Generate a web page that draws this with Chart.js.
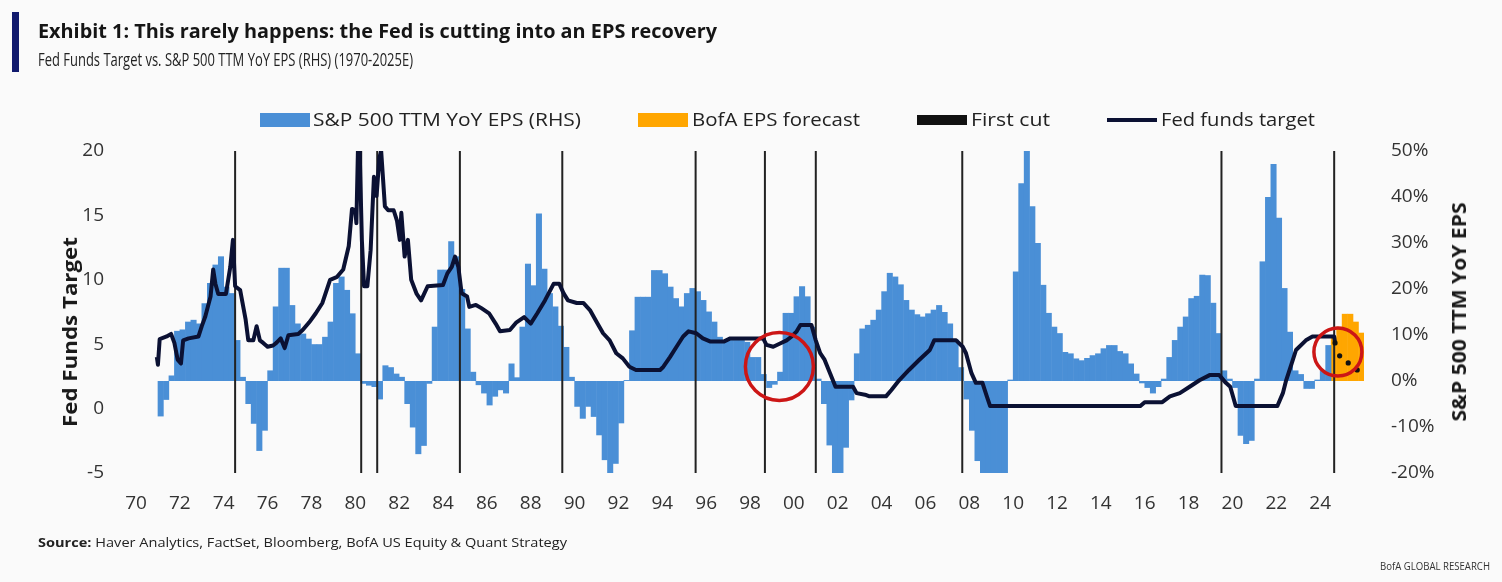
<!DOCTYPE html>
<html>
<head>
<meta charset="utf-8">
<title>Fed Funds Target vs. S&P 500 TTM YoY EPS</title>
<script src="https://cdn.jsdelivr.net/npm/chart.js@4.4.1/dist/chart.umd.min.js"></script>
<style>
  html, body { margin: 0; padding: 0; }
  body {
    width: 1502px; height: 582px; position: relative; overflow: hidden;
    background: #fafafa; color: #1a1a1a;
    font-family: 'Open Sans', 'Noto Sans', sans-serif;
  }
  #chart { position: absolute; left: 0; top: 0; }
  .txt { position: absolute; white-space: nowrap; line-height: 1; transform-origin: 0 50%; }
  .accent { position: absolute; left: 12px; top: 12px; width: 7px; height: 60px; background: #111a6e; }
  #title { left: 38px; top: 22px; font-size: 19px; font-weight: 700; color: #151515; }
  #subtitle { left: 38px; top: 50px; font-size: 18px; color: #222; }
  .swatch { position: absolute; }
  .legend { top: 110px; font-size: 18px; color: #222; }
  .axis-title { font-size: 20px; font-weight: 700; color: #1a1a1a; transform-origin: 50% 50%; }
  #source { left: 38px; top: 536px; font-size: 13px; color: #222; }
  #brand { left: 1380px; top: 560px; font-size: 11px; color: #333; }
</style>
</head>
<body>
<canvas id="chart" width="1502" height="582"></canvas>

<div class="accent"></div>
<div class="txt" id="title" data-w="679">Exhibit 1: This rarely happens: the Fed is cutting into an EPS recovery</div>
<div class="txt" id="subtitle" data-w="375">Fed Funds Target vs. S&amp;P 500 TTM YoY EPS (RHS) (1970-2025E)</div>

<div class="swatch" style="left:260px; top:113px; width:50px; height:14px; background:#4a8fd6;"></div>
<div class="txt legend" style="left:313px;" data-w="268">S&amp;P 500 TTM YoY EPS (RHS)</div>
<div class="swatch" style="left:638px; top:113px; width:50px; height:14px; background:#ffa600;"></div>
<div class="txt legend" style="left:692px;" data-w="168">BofA EPS forecast</div>
<div class="swatch" style="left:917px; top:115px; width:50px; height:10px; background:#111;"></div>
<div class="txt legend" style="left:971px;" data-w="79">First cut</div>
<div class="swatch" style="left:1107px; top:118px; width:50px; height:4px; background:#0b1133;"></div>
<div class="txt legend" style="left:1161px;" data-w="154">Fed funds target</div>

<div class="txt axis-title" id="leftTitle" data-cx="70" data-cy="332" data-w="190">Fed Funds Target</div>
<div class="txt axis-title" id="rightTitle" data-cx="1459" data-cy="312" data-w="219">S&amp;P 500 TTM YoY EPS</div>

<div class="txt" id="source" data-w="529"><b>Source:</b> Haver Analytics, FactSet, Bloomberg, BofA US Equity &amp; Quant Strategy</div>
<div class="txt" id="brand" data-w="110">BofA GLOBAL RESEARCH</div>

<script>
// S&P 500 trailing-12m EPS, YoY %, one value per quarter starting Q1 1971
const epsStart = 1971;
const epsYoY = [
  -7.7, -4.1, 1.2, 10.9,      // 1971
  11.2, 12.9, 13.3, 12.5,     // 1972
  16.9, 21.3, 25.3, 27.1,     // 1973
  20.5, 19.1, 8.9, 0.9,       // 1974
  -5.0, -9.3, -15.2, -10.8,   // 1975
  2.3, 16.2, 24.6, 24.6,      // 1976
  16.5, 12.5, 10.3, 9.2,      // 1977
  8.0, 8.0, 9.6, 12.9,        // 1978
  21.3, 22.7, 19.8, 14.7,     // 1979
  6.0, -0.6, -1.0, -1.3,      // 1980
  -4.0, 3.4, 3.0, 1.6,        // 1981
  0.9, -5.0, -10.1, -15.9,    // 1982
  -14.1, -0.6, 11.8, 24.2,    // 1983
  24.2, 30.4, 27.1, 20.0,     // 1984
  11.4, 2.0, -0.9, -2.7,      // 1985
  -5.3, -3.4, -2.0, -2.7,     // 1986
  3.8, 0.8, 11.8, 25.5,       // 1987
  20.8, 36.4, 24.4, 19.1,     // 1988
  16.2, 12.0, 7.4, 0.9,       // 1989
  -5.6, -8.2, -5.6, -7.8,     // 1990
  -11.8, -17.2, -20.2, -18.0, // 1991
  -9.2, 0.2, 11.0, 18.3,      // 1992
  18.3, 18.3, 24.1, 24.1,     // 1993
  23.4, 20.5, 18.0, 16.2,     // 1994
  19.1, 20.2, 19.5, 17.6,     // 1995
  15.1, 12.9, 9.6, 8.9,       // 1996
  8.9, 8.9, 8.9, 8.5,         // 1997
  5.2, 5.2, 1.5, -1.5,        // 1998
  -0.8, 2.0, 14.8, 14.8,      // 1999
  18.4, 20.6, 18.4, 11.8,     // 2000
  0.5, -5.0, -14.0, -20.5,    // 2001
  -21.0, -14.5, -4.2, 6.0,    // 2002
  11.4, 12.2, 13.3, 15.5,     // 2003
  19.5, 23.5, 22.7, 21.0,     // 2004
  17.6, 15.5, 14.5, 14.0,     // 2005
  14.7, 15.5, 16.5, 15.0,     // 2006
  12.5, 9.0, 3.0, -4.0,       // 2007
  -10.8, -17.4, -22.0, -25.0, // 2008
  -30.0, -30.0, -25.0, 0.3,   // 2009
  23.8, 43.0, 55.0, 38.0,     // 2010
  30.0, 20.9, 14.8, 11.8,     // 2011
  10.4, 6.3, 6.0, 4.9,        // 2012
  4.5, 5.0, 5.6, 6.0,         // 2013
  7.1, 7.8, 7.8, 6.5,         // 2014
  6.0, 3.8, 1.6, -0.5,        // 2015
  -1.5, -2.7, -1.3, 0.5,      // 2016
  5.2, 8.9, 11.8, 14.0,       // 2017
  18.0, 18.5, 23.1, 23.0,     // 2018
  17.0, 10.4, 2.3, 0.5,       // 2019
  -1.5, -11.9, -13.7, -13.0,  // 2020
  0.5, 26.0, 40.0, 47.2,      // 2021
  35.5, 20.2, 10.7, 2.3,      // 2022
  1.5, -1.7, -1.7, 0.3,       // 2023
  2.3, 7.8                    // 2024 H1
];

// BofA forecast, Q3 2024 - Q4 2025
const forecastStart = 2024.5;
const epsForecast = [9.5, 11.8, 14.6, 14.6, 12.9, 10.5];

// Fed funds target (upper bound), year fraction -> %
const fedYears = [
  1970.95, 1971.0, 1971.08, 1971.4, 1971.6, 1971.75, 1971.9, 1972.05, 1972.15, 1972.4,
  1972.85, 1973.0, 1973.15, 1973.4, 1973.52, 1973.62, 1973.75, 1974.1, 1974.3, 1974.42,
  1974.52, 1974.75, 1975.0, 1975.12, 1975.35, 1975.5, 1975.65, 1975.8, 1976.0, 1976.25,
  1976.4, 1976.6, 1976.78, 1976.95, 1977.4, 1977.6, 1977.9, 1978.2, 1978.5, 1978.85,
  1979.15, 1979.45, 1979.7, 1979.85, 1980.0, 1980.05, 1980.12, 1980.2, 1980.3, 1980.4,
  1980.55, 1980.7, 1980.85, 1980.97, 1981.1, 1981.18, 1981.35, 1981.5, 1981.75, 1981.9,
  1982.03, 1982.1, 1982.25, 1982.4, 1982.55, 1982.8, 1983.0, 1983.3, 1984.0, 1984.2,
  1984.4, 1984.55, 1984.7, 1984.85, 1985.1, 1985.2, 1985.5, 1985.75, 1986.1, 1986.4,
  1986.6, 1987.05, 1987.35, 1987.7, 1988.0, 1988.3, 1988.65, 1989.05, 1989.3, 1989.5,
  1989.7, 1990.1, 1990.4, 1990.7, 1991.0, 1991.3, 1991.6, 1991.9, 1992.2, 1992.5,
  1992.8, 1993.9, 1994.05, 1994.35, 1994.65, 1994.95, 1995.2, 1995.55, 1995.85, 1996.2,
  1996.8, 1997.1, 1998.6, 1998.75, 1999.06, 1999.37, 1999.67, 1999.9, 2000.13, 2000.3,
  2000.8, 2001.0, 2001.2, 2001.4, 2001.65, 2001.9, 2002.7, 2002.86, 2003.3, 2003.45,
  2004.2, 2004.45, 2004.8, 2005.25, 2005.7, 2006.2, 2006.4, 2007.4, 2007.7, 2007.85,
  2008.1, 2008.3, 2008.6, 2008.8, 2008.95, 2015.8, 2016.0, 2016.8, 2017.15, 2017.6,
  2018.05, 2018.5, 2018.96, 2019.4, 2019.7, 2019.9, 2020.15, 2022.05, 2022.3, 2022.45,
  2022.7, 2022.9, 2023.35, 2023.65, 2024.64, 2024.68
];
const fedRates = [
  4.0, 3.4, 5.4, 5.6, 5.8, 5.1, 3.8, 3.5, 5.3, 5.45,
  5.6, 6.4, 7.1, 8.7, 10.8, 9.7, 8.9, 8.9, 11.0, 13.1,
  9.5, 9.2, 6.9, 5.3, 5.3, 6.4, 5.3, 5.1, 4.8, 4.9,
  5.1, 5.45, 4.7, 5.7, 5.8, 6.1, 6.7, 7.4, 8.2, 10.0,
  10.2, 10.8, 12.6, 15.5, 15.4, 14.4, 20.0, 20.0, 13.1, 9.5,
  9.5, 12.3, 18.0, 16.5, 19.5, 20.0, 15.7, 15.4, 15.4, 14.6,
  13.1, 15.2, 11.8, 13.1, 10.0, 8.9, 8.4, 9.5, 9.6, 10.5,
  11.0, 11.8, 11.0, 8.95, 8.7, 7.9, 8.05, 7.8, 7.4, 6.6,
  6.0, 6.1, 6.7, 7.1, 6.6, 7.4, 8.4, 9.7, 9.7, 8.95,
  8.4, 8.2, 8.2, 7.65, 6.75, 5.85, 5.3, 4.3, 3.9, 3.25,
  3.0, 3.0, 3.25, 4.0, 4.8, 5.6, 6.0, 5.85, 5.45, 5.2,
  5.2, 5.45, 5.45, 4.95, 4.8, 5.05, 5.3, 5.6, 6.0, 6.5,
  6.5, 5.3, 4.3, 3.8, 2.75, 1.7, 1.7, 1.2, 1.05, 0.95,
  0.95, 1.45, 2.2, 3.0, 3.75, 4.55, 5.3, 5.3, 4.8, 4.3,
  2.75, 2.0, 2.0, 0.95, 0.2, 0.2, 0.5, 0.5, 0.95, 1.2,
  1.7, 2.2, 2.6, 2.6, 2.0, 1.7, 0.2, 0.2, 1.2, 2.2,
  3.5, 4.55, 5.3, 5.6, 5.6, 5.1
];

// projected path after the latest cut
const fedPathYears = [2024.68, 2024.89, 2025.28, 2025.69];
const fedPathRates = [5.1, 4.1, 3.55, 3.0];

// dates of the first cut of each easing cycle
const firstCuts = [1974.52, 1980.27, 1981.0, 1984.77, 1989.44, 1995.52, 1998.68, 2001.0, 2007.68, 2019.5, 2024.64];

// ringed episodes: cuts made while earnings were recovering
const circledYears = [1999.34, 2024.81];
const circledRates = [3.27, 4.39];

const yearTicks = [1970, 1972, 1974, 1976, 1978, 1980, 1982, 1984, 1986, 1988, 1990, 1992, 1994, 1996,
                   1998, 2000, 2002, 2004, 2006, 2008, 2010, 2012, 2014, 2016, 2018, 2020, 2022, 2024];
const rateTicks = [-5, 0, 5, 10, 15, 20];
const epsTicks = [-20, -10, 0, 10, 20, 30, 40, 50];

// bars sit in the middle of their quarter
const quarterBars = (start, values) => values.map((v, i) => ({ x: start + i * 0.25 + 0.125, y: v }));
const pairs = (xs, ys) => xs.map((x, i) => ({ x: x, y: ys[i] }));
const cutLines = firstCuts.flatMap(x => [{ x: x, y: -5 }, { x: x, y: 20 }, { x: x, y: null }]);
const fixedTicks = list => scale => { scale.ticks = list.map(v => ({ value: v })); };

Chart.defaults.font.family = "'Open Sans', 'Noto Sans', sans-serif";
Chart.defaults.font.size = 19;
Chart.defaults.color = '#333';

const chart = new Chart(document.getElementById('chart'), {
  type: 'bar',
  data: {
    datasets: [
      {
        label: 'S&P 500 TTM YoY EPS (RHS)',
        data: quarterBars(epsStart, epsYoY),
        yAxisID: 'y1',
        backgroundColor: '#4a8fd6',
        borderWidth: 0,
        grouped: false,
        barPercentage: 1.1,
        categoryPercentage: 1,
        order: 5
      },
      {
        label: 'BofA EPS forecast',
        data: quarterBars(forecastStart, epsForecast),
        yAxisID: 'y1',
        backgroundColor: '#ffa600',
        borderWidth: 0,
        grouped: false,
        barPercentage: 1.1,
        categoryPercentage: 1,
        order: 5
      },
      {
        type: 'line',
        label: 'First cut',
        data: cutLines,
        yAxisID: 'y',
        borderColor: '#222',
        borderWidth: 2,
        pointRadius: 0,
        spanGaps: false,
        order: 3
      },
      {
        type: 'line',
        label: 'Fed funds target',
        data: pairs(fedYears, fedRates),
        yAxisID: 'y',
        borderColor: '#0b1133',
        borderWidth: 4,
        borderJoinStyle: 'round',
        pointRadius: 0,
        tension: 0,
        order: 2
      },
      {
        type: 'line',
        label: 'Projected path',
        data: pairs(fedPathYears, fedPathRates),
        yAxisID: 'y',
        showLine: false,
        pointRadius: 2.6,
        pointBackgroundColor: '#111',
        pointBorderWidth: 0,
        order: 1
      },
      {
        type: 'line',
        label: 'Highlight',
        data: pairs(circledYears, circledRates),
        yAxisID: 'y',
        showLine: false,
        pointRadius: [34, 24],
        pointBorderWidth: 3.5,
        pointBorderColor: '#cc1616',
        pointBackgroundColor: 'rgba(0,0,0,0)',
        order: 0
      }
    ]
  },
  options: {
    responsive: false,
    animation: false,
    devicePixelRatio: 1,
    events: [],
    layout: { padding: { top: 151, bottom: 59, left: 0, right: 0 } },
    plugins: {
      legend: { display: false },
      tooltip: { enabled: false }
    },
    scales: {
      x: {
        type: 'linear',
        min: 1970,
        max: 2026,
        offset: false,
        grid: { display: false },
        border: { display: false },
        afterBuildTicks: fixedTicks(yearTicks),
        afterFit: s => { s.height = 50; },
        ticks: {
          padding: 11,
          autoSkip: false,
          maxRotation: 0,
          callback: v => String(v % 100).padStart(2, '0')
        }
      },
      y: {
        position: 'left',
        min: -5,
        max: 20,
        grid: { display: false },
        border: { display: false },
        afterBuildTicks: fixedTicks(rateTicks),
        afterFit: s => { s.width = 136; },
        ticks: { padding: 24 }
      },
      y1: {
        position: 'right',
        min: -20,
        max: 50,
        grid: { display: false },
        border: { display: false },
        afterBuildTicks: fixedTicks(epsTicks),
        afterFit: s => { s.width = 138; },
        ticks: { padding: 19, callback: v => v + '%' }
      }
    }
  }
});

// squeeze the html labels to their boxes (the house font is a condensed face)
document.querySelectorAll('.txt[data-w]').forEach(el => {
  const natural = el.getBoundingClientRect().width;
  const k = Number(el.dataset.w) / natural;
  if (el.dataset.cx) {
    el.style.left = el.dataset.cx + 'px';
    el.style.top = el.dataset.cy + 'px';
    el.style.transform = 'translate(-50%, -50%) rotate(-90deg) scaleX(' + k + ')';
  } else {
    el.style.transform = 'scaleX(' + k + ')';
  }
});
</script>
</body>
</html>
